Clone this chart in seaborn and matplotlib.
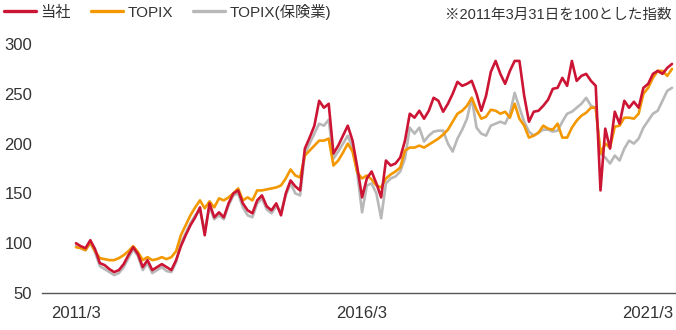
import numpy as np
import pandas as pd
import matplotlib
matplotlib.use("Agg")
import matplotlib.pyplot as plt
import seaborn as sns

# ---- data (monthly, index 0 = 2011/3) ----
series_names = ["当社", "TOPIX", "TOPIX(保険業)"]
tick_labels = ["2011/3", "2016/3", "2021/3"]
tick_months = [0, 60, 120]
note = "※2011年3月31日を100とした指数"

company = [100, 97, 95, 103, 94, 80, 78, 74, 71, 73, 79, 88,
           96, 89, 76, 83, 73, 76, 79, 76, 73, 83, 97, 108,
           118, 126, 136, 108, 140, 126, 131, 126, 140, 150, 153, 140,
           133, 130, 143, 148, 137, 133, 140, 128, 150, 163, 157, 153,
           195, 206, 218, 243, 236, 240, 190, 198, 208, 218, 203, 176,
           146, 165, 172, 160, 146, 183, 178, 180, 186, 203, 230, 226,
           233, 225, 233, 246, 243, 232, 240, 250, 262, 258, 260, 263,
           250, 233, 248, 272, 283, 270, 260, 273, 283, 283, 248, 222,
           232, 233, 238, 244, 255, 256, 266, 258, 283, 263, 268, 270,
           263, 258, 153, 215, 195, 232, 220, 243, 236, 242, 236, 256,
           260, 270, 273, 270, 276, 280]

topix = [96, 95, 93, 101, 92, 85, 84, 83, 83, 85, 88, 92,
         97, 91, 83, 86, 83, 84, 86, 84, 86, 92, 108, 118,
         128, 136, 143, 135, 142, 136, 145, 143, 146, 150, 155, 143,
         146, 143, 153, 153, 154, 155, 156, 158, 165, 174, 168, 166,
         188, 193, 198, 203, 203, 205, 178, 183, 191, 200, 192, 171,
         165, 168, 164, 158, 156, 165, 169, 172, 176, 193, 196, 196,
         198, 196, 199, 202, 205, 209, 214, 222, 230, 233, 238, 246,
         234, 225, 227, 234, 233, 230, 232, 226, 240, 225, 218, 206,
         208, 211, 218, 215, 214, 220, 206, 206, 216, 223, 228, 231,
         236, 236, 190, 200, 196, 217, 218, 226, 226, 225, 230, 250,
         256, 266, 273, 273, 268, 275]

topix_ins = [98, 95, 93, 100, 91, 77, 74, 71, 68, 70, 76, 85,
             94, 87, 73, 80, 70, 73, 76, 72, 71, 81, 100, 110,
             120, 128, 133, 112, 137, 124, 128, 124, 138, 148, 150, 136,
             128, 126, 140, 145, 134, 130, 137, 132, 148, 160, 150, 148,
             190, 200, 210, 220, 218, 224, 185, 192, 200, 208, 196, 170,
             131, 158, 160, 150, 125, 160, 165, 167, 172, 185, 216, 210,
             216, 202, 208, 212, 213, 213, 200, 192, 205, 214, 225, 246,
             216, 210, 208, 218, 220, 222, 220, 230, 251, 236, 222, 212,
             208, 211, 214, 214, 212, 213, 222, 230, 232, 236, 240, 246,
             238, 236, 190, 186, 180, 188, 183, 195, 203, 200, 205, 216,
             223, 230, 233, 243, 253, 256]

months = np.arange(len(company))

df = pd.DataFrame({
    "month": np.concatenate([months, months, months]),
    "value": company + topix + topix_ins,
    "series": [series_names[0]] * len(company)
              + [series_names[1]] * len(topix)
              + [series_names[2]] * len(topix_ins),
})

sns.set_style("white")
plt.rcParams["font.family"] = ["Liberation Sans", "Noto Sans CJK JP", "DejaVu Sans"]

colors = {"当社": "#CC1434", "TOPIX": "#F39800", "TOPIX(保険業)": "#B8B8B8"}
text_color = "#333333"

fig = plt.figure(figsize=(6.76, 3.30), dpi=100)
ax = fig.add_axes([42 / 676, 37 / 330, 634 / 676, 254 / 330])

sns.lineplot(data=df, x="month", y="value", hue="series",
             hue_order=["TOPIX(保険業)", "TOPIX", "当社"],
             palette=colors, linewidth=1.9, errorbar=None, ax=ax, legend=False)

ax.set_xlim(-34 / 4.77, 600 / 4.77 + 0.05)
ax.set_ylim(50, 50 + 254 / 0.996)
ax.set_yticks([50, 100, 150, 200, 250, 300])
ax.set_xticks(tick_months)
ax.set_xticklabels(tick_labels)
ax.set_xlabel("")
ax.set_ylabel("")

for s in ["top", "right", "left"]:
    ax.spines[s].set_visible(False)
ax.spines["bottom"].set_color("#555555")
ax.spines["bottom"].set_linewidth(1.0)

ax.tick_params(axis="y", direction="in", length=10.8, width=0.9, color="#333333",
               labelsize=12, labelcolor=text_color, pad=7)
ax.tick_params(axis="x", length=0, labelsize=12, labelcolor=text_color, pad=9)

# legend
from matplotlib.lines import Line2D
handles = [Line2D([], [], color=colors[n], linewidth=2.4) for n in series_names]
fig.legend(handles, series_names, loc="upper left", bbox_to_anchor=(0.0, 1.0),
           ncol=3, frameon=False, fontsize=11, handlelength=2.1,
           handletextpad=0.3, columnspacing=1.3, borderpad=0.25,
           borderaxespad=0.0, labelcolor=text_color)

fig.text(672 / 676, 1 - 15 / 330, note, ha="right", va="center",
         fontsize=10.5, color=text_color)

fig.savefig("out.png", dpi=100)
